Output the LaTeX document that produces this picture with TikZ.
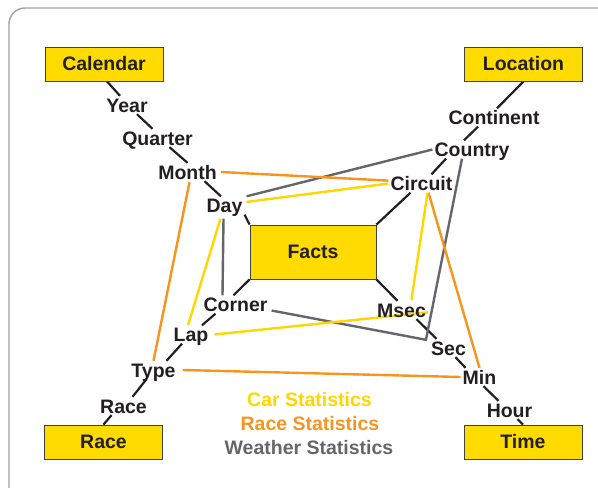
\documentclass[tikz,border=0pt]{standalone}
\usepackage{fontspec}
\setmainfont{Liberation Sans}
\usetikzlibrary{backgrounds}
\definecolor{boxyellow}{RGB}{255,219,0}
\definecolor{caryellow}{RGB}{255,214,0}
\definecolor{raceorange}{RGB}{247,148,30}
\definecolor{weathergray}{RGB}{100,102,106}
\definecolor{ink}{RGB}{35,31,32}
\definecolor{framegray}{RGB}{160,160,160}
\begin{document}
\begin{tikzpicture}[x=1pt,y=-1pt,
  every node/.style={font=\fontsize{19.5}{22}\selectfont\bfseries, text=ink},
  dimbox/.style={draw=ink!85, line width=0.9pt, fill=boxyellow, minimum width=118pt, minimum height=34pt, inner sep=0pt},
  level/.style={inner xsep=2pt, inner ysep=2pt, text height=14pt, text depth=0pt},
  hier/.style={draw=ink, line width=2.2pt},
  carline/.style={draw=caryellow, line width=2.4pt},
  raceline/.style={draw=raceorange, line width=2.4pt},
  wline/.style={draw=weathergray, line width=2.4pt, line join=miter}]
\useasboundingbox (0,0) rectangle (598,488);
\clip (0,0) rectangle (598,488);

% dimension boxes and fact table
\node[dimbox] (cal) at (104,64) {Calendar};
\node[dimbox] (loc) at (523.5,64) {Location};
\node[dimbox] (racebox) at (103.5,442) {Race};
\node[dimbox] (time) at (523,442) {Time};
\node[dimbox, minimum width=126pt, minimum height=54pt] (facts) at (313,252) {Facts};

% hierarchy levels
\node[level] (year) at (127,105) {Year};
\node[level] (quarter) at (157.5,138) {Quarter};
\node[level] (month) at (187.5,172) {Month};
\node[level] (day) at (224.5,205.5) {Day};
\node[level] (continent) at (494,117.5) {Continent};
\node[level] (country) at (472,149.5) {Country};
\node[level] (circuit) at (421.5,183.5) {Circuit};
\node[level] (corner) at (235.5,304.5) {Corner};
\node[level] (lap) at (191,334.5) {Lap};
\node[level] (type) at (153.5,370) {Type};
\node[level] (race) at (123.5,406) {Race};
\node[level] (msec) at (401.5,310) {Msec};
\node[level] (sec) at (448.5,348) {Sec};
\node[level] (min) at (479.5,377) {Min};
\node[level] (hour) at (509.5,410) {Hour};

% legend
\node[text=caryellow] (lgcar) at (309.5,400) {Car Statistics};
\node[text=raceorange] (lgrace) at (310,424) {Race Statistics};
\node[text=weathergray] (lgweather) at (309,447.5) {Weather Statistics};

\begin{scope}[on background layer]
\draw[framegray, line width=1.4pt, rounded corners=16pt] (9,8) rectangle (660,540);

% hierarchy connectors
\draw[hier] ([xshift=3pt]cal.south) -- ([xshift=-7pt]year.north);
\draw[hier] ([xshift=10pt]year.south) -- ([xshift=-5pt]quarter.north);
\draw[hier] ([xshift=12pt]quarter.south) -- (month.north);
\draw[hier] ([xshift=17pt]month.south) -- ([xshift=-3.5pt]day.north);
\draw[hier] (day.south east) -- (facts.north west);
\draw[hier] (loc.south) -- ([xshift=3pt]continent.north);
\draw[hier] ([xshift=-16pt]continent.south) -- ([xshift=-8pt]country.north);
\draw[hier] ([xshift=-26pt]country.south) -- ([xshift=10pt]circuit.north);
\draw[hier] ([xshift=-11pt]circuit.south) -- (facts.north east);
\draw[hier] (facts.south west) -- ([xshift=-2pt]corner.north);
\draw[hier] ([xshift=-20pt]corner.south) -- ([xshift=11pt]lap.north);
\draw[hier] ([xshift=-9pt]lap.south) -- ([xshift=13pt]type.north);
\draw[hier] ([xshift=-7pt]type.south) -- ([xshift=9pt]race.north);
\draw[hier] ([xshift=-12pt]race.south) -- (racebox.north);
\draw[hier] (facts.south east) -- ([xshift=-4pt]msec.north);
\draw[hier] ([xshift=15pt]msec.south) -- ([xshift=-12pt]sec.north);
\draw[hier] ([xshift=7pt]sec.south) -- ([xshift=-14pt]min.north);
\draw[hier] ([xshift=4pt]min.south) -- ([xshift=-11pt]hour.north);
\draw[hier] ([xshift=8pt]hour.south) -- (time.north);

% weather statistics
\coordinate (wbend) at ([xshift=-3pt,yshift=-1pt]sec.north west);
\draw[wline] ([xshift=2pt]day.north east) -- (country.west);
\draw[wline] ([xshift=-1pt,yshift=-4pt]day.south) -- ([xshift=-13pt]corner.north);
\draw[wline] ([xshift=2pt]corner.-10) -- (wbend) -- ([xshift=-10pt]country.south);

% race statistics
\draw[raceline] ([xshift=2pt]month.east) -- (circuit.175);
\draw[raceline] ([xshift=2pt,yshift=-1pt]month.south) -- (type.north);
\draw[raceline] ([xshift=7pt]circuit.south) -- (min.north);
\draw[raceline] ([xshift=5pt]type.east) -- (min.west);

% car statistics
\draw[carline] ([xshift=2pt]day.10) -- (circuit.west);
\draw[carline] ([xshift=-4pt,yshift=-4pt]day.south) -- ([xshift=-3pt]lap.north);
\draw[carline] ([xshift=6pt]circuit.south) -- ([xshift=10pt,yshift=1pt]msec.north);
\draw[carline] ([xshift=4pt]lap.east) -- (msec.-5);
\end{scope}
\end{tikzpicture}
\end{document}
